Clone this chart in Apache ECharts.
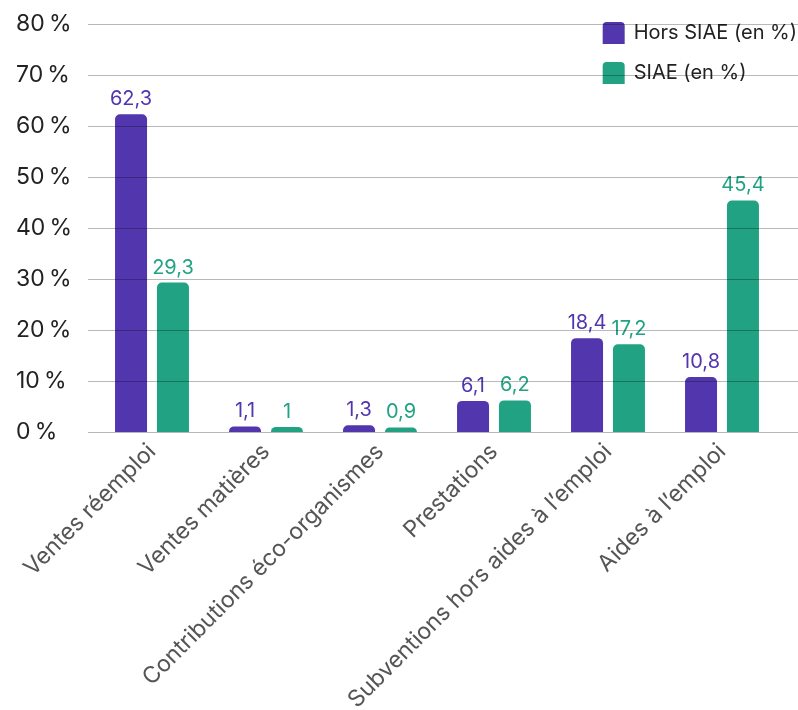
<!DOCTYPE html>
<html>
<head>
<meta charset="utf-8">
<script src="https://cdn.jsdelivr.net/npm/echarts@6/dist/echarts.min.js"></script>
<style>
  html, body { margin: 0; padding: 0; background: #fff; }
  #chart { width: 798px; height: 710px; }
</style>
</head>
<body>
<div id="chart"></div>
<script>
const categories = ['Ventes réemploi', 'Ventes matières', 'Contributions éco-organismes', 'Prestations', 'Subventions hors aides à l\u2019emploi', 'Aides à l\u2019emploi'];
const horsSiae = [62.3, 1.1, 1.3, 6.1, 18.4, 10.8];
const siae = [29.3, 1, 0.9, 6.2, 17.2, 45.4];
const yTicks = [0, 10, 20, 30, 40, 50, 60, 70, 80];

const PURPLE = '#5236ad';
const GREEN = '#21a383';
const FONT = 'Inter, "Noto Sans", sans-serif';

const chart = echarts.init(document.getElementById('chart'));

// valeur avec virgule décimale
const fmt = v => String(v).replace('.', ',');

const barLabel = color => ({
  show: true,
  position: 'top',
  distance: 5,
  color: color,
  fontFamily: FONT,
  fontSize: 20,
  formatter: p => fmt(p.value)
});

chart.setOption({
  animation: false,
  legend: {
    orient: 'vertical',
    right: -4,
    top: 17,
    itemWidth: 22,
    itemHeight: 22,
    itemGap: 18,
    icon: 'path://M4,0 L18,0 Q22,0 22,4 L22,22 L0,22 L0,4 Q0,0 4,0 Z',
    textStyle: { fontFamily: FONT, fontSize: 20, color: '#222', padding: [0, 0, 0, 4] },
    data: ['Hors SIAE (en %)', 'SIAE (en %)']
  },
  grid: [
    // grille large pour les lignes de fond et les libellés
    { left: 88, right: 0, top: 24, bottom: 278, outerBoundsMode: 'none' },
    // grille des barres
    { left: 95, right: 19, top: 24, bottom: 278, outerBoundsMode: 'none' }
  ],
  xAxis: [
    {
      gridIndex: 0,
      type: 'value',
      min: 0,
      max: 1,
      axisLine: { show: false },
      axisTick: { show: false },
      axisLabel: { show: false },
      splitLine: { show: false }
    },
    {
      gridIndex: 1,
      type: 'category',
      data: categories,
      axisLine: { show: false },
      axisTick: { show: false },
      axisLabel: {
        interval: 0,
        rotate: 45,
        margin: 16,
        color: '#555',
        fontFamily: FONT,
        fontSize: 23
      }
    }
  ],
  yAxis: [
    {
      gridIndex: 0,
      type: 'value',
      min: 0,
      max: 80,
      interval: 10,
      z: 5,
      axisLine: { show: false },
      axisTick: { show: false },
      axisLabel: {
        align: 'left',
        margin: 72,
        color: '#222',
        fontFamily: FONT,
        fontSize: 23,
        formatter: v => (yTicks.includes(v) ? v + '\u202f%' : '')
      },
      splitLine: { lineStyle: { color: 'rgba(0,0,0,0.28)', width: 1 } }
    },
    {
      gridIndex: 1,
      type: 'value',
      min: 0,
      max: 80,
      interval: 10,
      show: false,
      splitLine: { show: false }
    }
  ],
  series: [
    {
      name: 'Hors SIAE (en %)',
      type: 'bar',
      xAxisIndex: 1,
      yAxisIndex: 1,
      barWidth: 32,
      barGap: '31%',
      itemStyle: { color: PURPLE, borderRadius: [5, 5, 0, 0] },
      label: barLabel(PURPLE),
      data: horsSiae
    },
    {
      name: 'SIAE (en %)',
      type: 'bar',
      xAxisIndex: 1,
      yAxisIndex: 1,
      barWidth: 32,
      barGap: '31%',
      itemStyle: { color: GREEN, borderRadius: [5, 5, 0, 0] },
      label: barLabel(GREEN),
      data: siae
    }
  ]
});
</script>
</body>
</html>
